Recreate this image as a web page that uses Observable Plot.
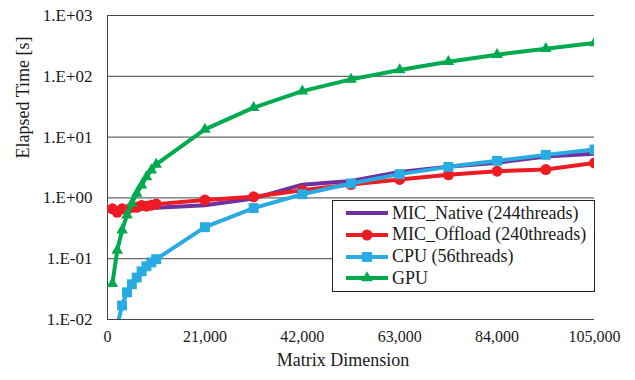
<!DOCTYPE html>
<html><head><meta charset="utf-8">
<script src="https://cdn.jsdelivr.net/npm/d3@7"></script>
<script src="https://cdn.jsdelivr.net/npm/@observablehq/plot@0.6"></script>
<style>
body{margin:0;background:#fff;}
#wrap{position:relative;width:635px;height:380px;}
#wrap svg text{font-family:"Liberation Serif",serif;}
[aria-label="y-axis tick label"]{font-size:17px;}
#legend{position:absolute;left:332px;top:200px;width:263px;height:92px;border:1px solid #222;background:#fff;box-sizing:border-box;font-family:"Liberation Serif",serif;font-size:18px;color:#1a1a1a;}
.row{position:absolute;left:12px;height:22px;display:flex;align-items:center;white-space:nowrap;}
.row svg{margin-right:3px;}
</style></head><body><div id="wrap"></div>
<script>
// Matrix dimension (x)
const dims = [1050, 2100, 3150, 4200, 5250, 6300, 7350, 8400, 9450, 10500, 21000, 31500, 42000, 52500, 63000, 73500, 84000, 94500, 105000];
// Elapsed time [s]
const micNative  = [0.63, 0.57, 0.62, 0.62, 0.65, 0.66, 0.68, 0.68, 0.70, 0.69, 0.76, 0.98, 1.65, 1.90, 2.68, 3.24, 3.80, 4.80, 5.35];
const micOffload = [0.66, 0.58, 0.66, 0.64, 0.70, 0.70, 0.75, 0.73, 0.76, 0.79, 0.92, 1.04, 1.34, 1.66, 2.01, 2.40, 2.75, 2.93, 3.75];
const cpu        = [null, 0.008, 0.017, 0.028, 0.038, 0.049, 0.062, 0.075, 0.087, 0.098, 0.33, 0.68, 1.15, 1.73, 2.46, 3.24, 4.07, 5.10, 6.25];
const gpu        = [0.039, 0.137, 0.294, 0.52, 0.81, 1.18, 1.62, 2.22, 2.86, 3.55, 13.4, 30.5, 57, 89, 127, 174, 227, 285, 354];

const seriesNames = ["MIC_Native (244threads)", "MIC_Offload (240threads)", "CPU (56threads)", "GPU"];
const seriesValues = [micNative, micOffload, cpu, gpu];
const seriesColors = ["#7030A0", "#ED1C24", "#29ABE2", "#00AA4F"];
const seriesSymbols = [null, "circle", "square", "triangle"];
const seriesR = [0, 5.5, 5.6, 4.3];

const yTicks = [0.01, 0.1, 1, 10, 100, 1000];
const yTickLabels = ["1.E-02", "1.E-01", "1.E+00", "1.E+01", "1.E+02", "1.E+03"];
const xTicks = [0, 21000, 42000, 63000, 84000, 105000];
const xTickLabels = ["0", "21,000", "42,000", "63,000", "84,000", "105,000"];
const xTitle = "Matrix Dimension";
const yTitle = "Elapsed Time [s]";

const tables = seriesValues.map((vals, k) =>
  dims.map((n, i) => ({n, v: vals[i], name: seriesNames[k]})).filter(d => d.v != null));

const marks = [
  Plot.gridY(yTicks, {stroke: "#444", strokeOpacity: 1, strokeWidth: 1}),
  Plot.ruleX([0], {stroke: "#444", strokeWidth: 1})
];
tables.forEach((t, k) => {
  marks.push(Plot.line(t, {x: "n", y: "v", stroke: seriesColors[k], strokeWidth: 4, clip: true}));
  if (seriesSymbols[k]) marks.push(Plot.dot(t, {x: "n", y: "v", symbol: seriesSymbols[k], r: seriesR[k], fill: seriesColors[k], stroke: "none", clip: true}));
});
marks.push(Plot.text([xTitle], {frameAnchor: "bottom", dx: -8, dy: 46, fontSize: 18, fill: "#1a1a1a"}));
marks.push(Plot.text([yTitle], {frameAnchor: "left", dx: -84, dy: -9, rotate: -90, fontSize: 18, fill: "#1a1a1a"}));

const chart = Plot.plot({
  width: 635, height: 380,
  marginLeft: 107, marginRight: 41, marginTop: 15, marginBottom: 61,
  style: {fontFamily: "Liberation Serif", fontSize: "16px", background: "#fff", color: "#1a1a1a"},
  x: {domain: [0, 105000], ticks: xTicks, tickFormat: d => xTickLabels[xTicks.indexOf(d)], tickSize: 0, tickPadding: 11, label: null},
  y: {type: "log", domain: [0.01, 1000], ticks: yTicks, tickFormat: d => yTickLabels[yTicks.indexOf(d)], tickSize: 0, tickPadding: 15, label: null},
  marks
});
const wrap = document.getElementById("wrap");
wrap.appendChild(chart);

// legend
const legend = document.createElement("div");
legend.id = "legend";
wrap.appendChild(legend);
seriesNames.forEach((name, k) => {
  const row = document.createElement("div");
  row.className = "row";
  row.style.top = (1 + k * 21.8) + "px";
  const svg = d3.create("svg").attr("width", 44).attr("height", 14);
  svg.append("line").attr("x1", 1).attr("x2", 43).attr("y1", 7).attr("y2", 7)
    .attr("stroke", seriesColors[k]).attr("stroke-width", 4);
  if (seriesSymbols[k]) {
    const sym = {circle: d3.symbolCircle, square: d3.symbolSquare, triangle: d3.symbolTriangle}[seriesSymbols[k]];
    svg.append("path").attr("transform", "translate(22,7)")
      .attr("d", d3.symbol(sym, Math.PI * seriesR[k] * seriesR[k])()).attr("fill", seriesColors[k]);
  }
  row.appendChild(svg.node());
  const span = document.createElement("span");
  span.textContent = name;
  row.appendChild(span);
  legend.appendChild(row);
});
</script>
</body></html>
